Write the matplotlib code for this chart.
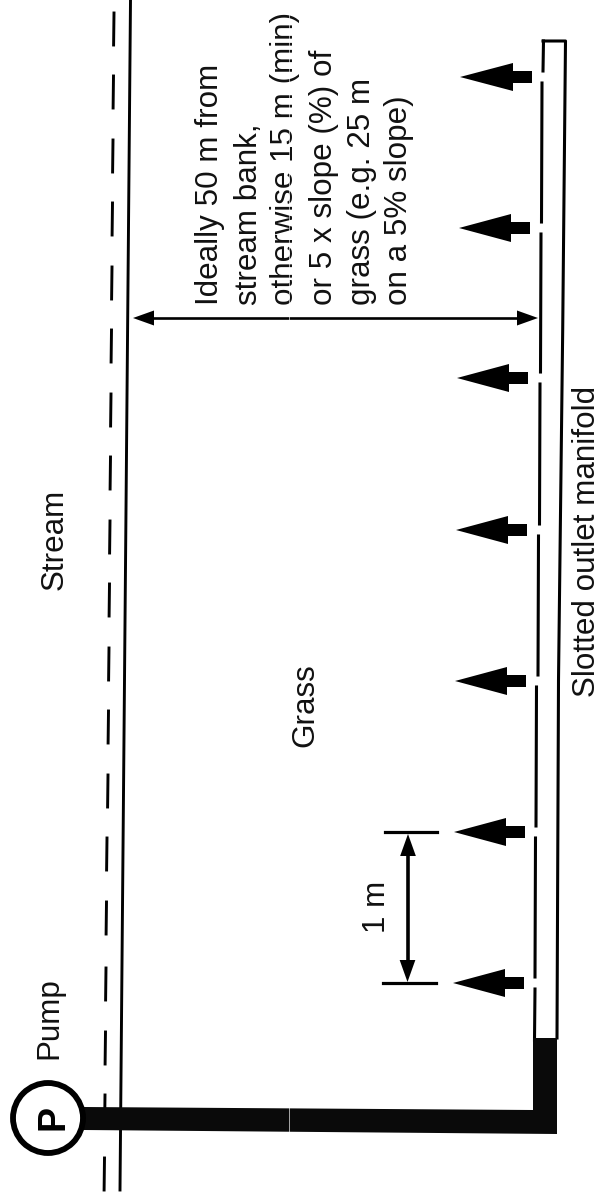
import matplotlib.pyplot as plt
from matplotlib.patches import Circle, Polygon

plt.rcParams['font.family'] = ['Liberation Sans', 'DejaVu Sans']

# everything below is in picture pixels, the scan is a bit skewed
arrow_y = [77, 228, 378, 530, 681, 832, 983]
arrow_tip = [460, 459, 457, 456, 455, 454, 453]
arrow_neck = [513, 511, 509, 508, 507, 506, 505]
arrow_tail = [532, 530, 528, 527, 526, 525, 524]
slot_x = [543, 541.5, 540.5, 539.5, 538, 536, 535]

dash_y = [13, 76, 140, 203, 267, 330, 394, 457, 521, 584, 648, 711, 775, 838, 902, 968, 1032, 1095, 1158]
dash_x = [114, 113.5, 113, 112.5, 112, 111.5, 111, 110.5, 110, 109.5, 109, 108.5, 108, 107, 106.5, 106, 105.5, 105, 104.5]

note_lines = ['Ideally 50 m from', 'stream bank,', 'otherwise 15 m (min)',
              'or 5 x slope (%) of', 'grass (e.g. 25 m', 'on a 5% slope)']
note_x = [218, 257, 293, 332, 370, 407]

labels = ['Stream', 'Grass', 'Slotted outlet manifold', 'Pump', '1 m']
label_x = [63, 313, 595, 57.5, 385]
label_y = [539, 705, 541, 1018, 907]

fig = plt.figure(figsize=(6.01, 11.97), dpi=100)
ax = fig.add_axes([0, 0, 1, 1])
ax.set_xlim(0, 601)
ax.set_ylim(1197, 0)
ax.axis('off')


def head(tip_x, tip_y, dx, dy):
    # small dimension arrow head, dx/dy runs from tip towards the shaft
    px, py = dy * 7.5 / 21, dx * 7.5 / 21
    ax.add_patch(Polygon([(tip_x, tip_y), (tip_x + dx + px, tip_y + dy + py),
                          (tip_x + dx - px, tip_y + dy - py)],
                         closed=True, color='black', lw=0))


# stream bank and water line
ax.plot([130.5, 120], [0, 1190], color='black', lw=2.1)
for x, y in zip(dash_x, dash_y):
    ax.plot([x, x - 0.4], [y, y + 32], color='black', lw=2.1)

# delivery pipe
ax.add_patch(Polygon([(84, 1107), (533, 1110), (533, 1038), (557, 1038), (557, 1134), (84, 1130)],
                     closed=True, color='#0a0a0a', lw=0, zorder=3))

# pump
ax.add_patch(Circle((48, 1118), 35, fc='white', ec='black', lw=4.2, zorder=5))
ax.text(63, 1118, 'P', rotation=90, rotation_mode='anchor', fontsize=27, fontweight='bold',
        ha='center', va='baseline', zorder=6)

# manifold outline, slots on the stream side
ax.plot([543, 565.5, 562.7, 558.5, 557], [41, 41, 330, 680, 1038], color='black', lw=2.2)
prev = 41
for x, y in zip(slot_x, arrow_y):
    ax.plot([x + 0.5, x], [prev, y - 6], color='black', lw=2.2)
    prev = y + 6
ax.plot([535, 534.5], [prev, 1040], color='black', lw=2.2)

# outlet arrows
for y, tip, neck, tail in zip(arrow_y, arrow_tip, arrow_neck, arrow_tail):
    ax.add_patch(Polygon([(tip, y), (neck, y - 14), (neck, y - 6), (tail, y - 6),
                          (tail, y + 6), (neck, y + 6), (neck, y + 14)],
                         closed=True, color='black', lw=0))

# setback distance
ax.plot([145, 528], [318, 318], color='black', lw=1.9)
head(133, 318, 21, 0)
head(538, 318, -21, 0)

# 1 m spacing
ax.plot([385, 437], [832, 832], color='black', lw=2.3)
ax.plot([383, 436], [983, 983], color='black', lw=2.3)
ax.plot([408, 408], [845, 970], color='black', lw=2.6)
head(408, 834, 0, 22)
head(407.5, 982, 0, -22)

for line, x in zip(note_lines, note_x):
    ax.text(x, 305, line, rotation=90, rotation_mode='anchor', fontsize=22.6,
            ha='left', va='baseline', color='#111111')
for label, x, y in zip(labels, label_x, label_y):
    ax.text(x, y, label, rotation=90, rotation_mode='anchor', fontsize=22.6,
            ha='center', va='baseline', color='#111111')

# seam of the scan, only shows where it crosses black
ax.plot([288.5, 288.5], [0, 1197], color='white', lw=0.45, zorder=7)

fig.savefig('out.png', dpi=100, facecolor='white')
